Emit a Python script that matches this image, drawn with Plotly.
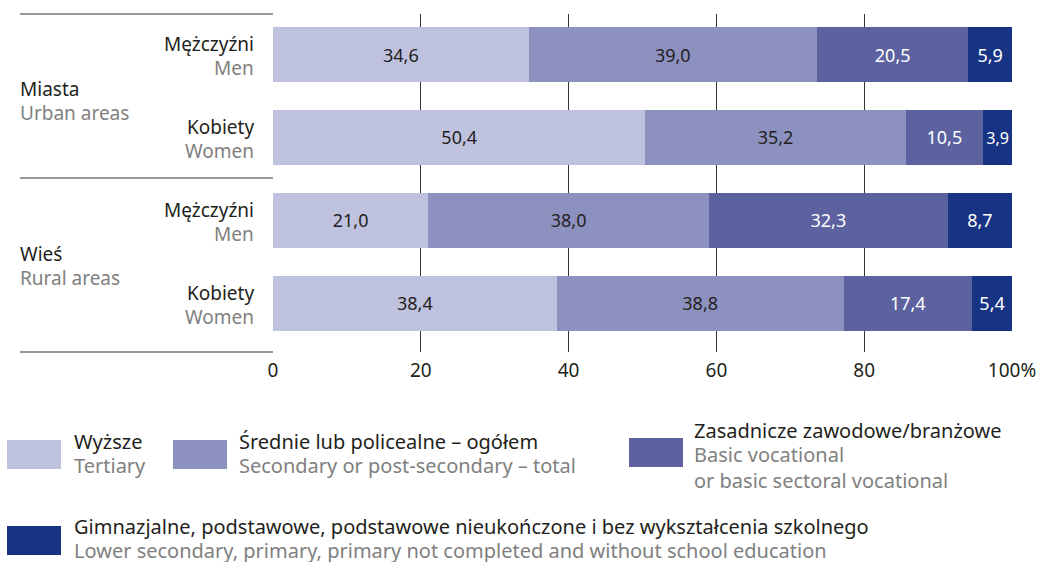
import plotly.graph_objects as go

# rows, top to bottom
rows = ["Miasta – Mężczyźni", "Miasta – Kobiety", "Wieś – Mężczyźni", "Wieś – Kobiety"]
row_pl = ["Mężczyźni", "Kobiety", "Mężczyźni", "Kobiety"]
row_en = ["Men", "Women", "Men", "Women"]
groups_pl = ["Miasta", "Wieś"]
groups_en = ["Urban areas", "Rural areas"]

series_pl = ["Wyższe", "Średnie lub policealne – ogółem", "Zasadnicze zawodowe/branżowe",
             "Gimnazjalne, podstawowe, podstawowe nieukończone i bez wykształcenia szkolnego"]
series_en = ["Tertiary", "Secondary or post-secondary – total",
             "Basic vocational<br>or basic sectoral vocational",
             "Lower secondary, primary, primary not completed and without school education"]

tertiary = [34.6, 50.4, 21.0, 38.4]
secondary = [39.0, 35.2, 38.0, 38.8]
vocational = [20.5, 10.5, 32.3, 17.4]
lower = [5.9, 3.9, 8.7, 5.4]

tick_vals = [0, 20, 40, 60, 80, 100]
tick_text = ["0", "20", "40", "60", "80", "100%"]

colors = ["#bfc2de", "#8d91bf", "#5c62a0", "#173383"]
text_colors = ["#231f20", "#231f20", "#ffffff", "#ffffff"]

FONT = "Noto Sans"
DARK = "#231f20"
GREY = "#808080"
FS = 19
FS_LEG = 20

# page geometry (pixels)
W, H = 1039, 562
L, R, T, B = 273, 1012, 14, 352


def px(x):
    return (x - L) / (R - L)


def py(y):
    return (B - y) / (B - T)


fig = go.Figure()
ypos = list(range(len(rows)))
for vals, name, c, tc in zip([tertiary, secondary, vocational, lower], series_pl, colors, text_colors):
    fig.add_trace(go.Bar(
        y=ypos, x=vals, orientation="h", name=name,
        marker=dict(color=c, line=dict(width=0)),
        text=[f"{v:.1f}".replace(".", ",") for v in vals],
        textposition="inside", insidetextanchor="middle", textangle=0,
        textfont=dict(family=FONT, size=18, color=tc),
        hoverinfo="skip",
    ))

shapes = []
# left frame lines
for yy in [T, 178, B]:
    shapes.append(dict(type="line", xref="paper", yref="paper",
                       x0=px(20), x1=px(273), y0=py(yy), y1=py(yy),
                       line=dict(color="#333333", width=1)))

ann = []
# row labels
row_y = [44, 127, 210, 293]
for yy, pl, en in zip(row_y, row_pl, row_en):
    ann.append(dict(xref="paper", yref="paper", x=px(256), y=py(yy), text=pl,
                    xanchor="right", yanchor="middle", showarrow=False,
                    font=dict(family=FONT, size=FS, color=DARK)))
    ann.append(dict(xref="paper", yref="paper", x=px(256), y=py(yy + 24), text=en,
                    xanchor="right", yanchor="middle", showarrow=False,
                    font=dict(family=FONT, size=FS, color=GREY)))
# group labels
for yy, pl, en in zip([89, 254], groups_pl, groups_en):
    ann.append(dict(xref="paper", yref="paper", x=px(18), y=py(yy), text=pl,
                    xanchor="left", yanchor="middle", showarrow=False,
                    font=dict(family=FONT, size=FS, color=DARK)))
    ann.append(dict(xref="paper", yref="paper", x=px(18), y=py(yy + 24), text=en,
                    xanchor="left", yanchor="middle", showarrow=False,
                    font=dict(family=FONT, size=FS, color=GREY)))

# legend built by hand: square x, square y, text x, first line y
legend_pos = [(7, 440, 72, 441), (173, 440, 237, 441), (629, 438, 692, 430), (7, 526, 72, 526)]
for (sx, sy, tx, ty), c, pl, en in zip(legend_pos, colors, series_pl, series_en):
    shapes.append(dict(type="rect", xref="paper", yref="paper",
                       x0=px(sx), x1=px(sx + 54), y0=py(sy), y1=py(sy + 29),
                       fillcolor=c, line=dict(width=0)))
    ann.append(dict(xref="paper", yref="paper", x=px(tx), y=py(ty), text=pl,
                    xanchor="left", yanchor="middle", showarrow=False,
                    font=dict(family=FONT, size=FS_LEG, color=DARK)))
    ann.append(dict(xref="paper", yref="paper", x=px(tx), y=py(ty + 9), text=en,
                    xanchor="left", yanchor="top", showarrow=False, align="left",
                    font=dict(family=FONT, size=FS_LEG, color=GREY)))

fig.update_layout(
    width=W, height=H,
    margin=dict(l=L, r=W - R, t=T, b=H - B, pad=0),
    barmode="stack", bargap=0.33,
    showlegend=False,
    plot_bgcolor="white", paper_bgcolor="white",
    font=dict(family=FONT, size=FS, color=DARK),
    xaxis=dict(range=[0, 100], tickvals=tick_vals, ticktext=tick_text,
               showgrid=True, gridcolor="#333333", gridwidth=1,
               zeroline=False, showline=False, ticks="", automargin=False,
               tickfont=dict(family=FONT, size=FS, color=DARK), ticklabelstandoff=5),
    yaxis=dict(range=[3.585, -0.488], showticklabels=False, showgrid=False,
               zeroline=False, showline=False, automargin=False),
    shapes=shapes, annotations=ann,
)

fig.write_html("out.html", config={"displayModeBar": False},
               post_script="document.body.style.margin='0';")
